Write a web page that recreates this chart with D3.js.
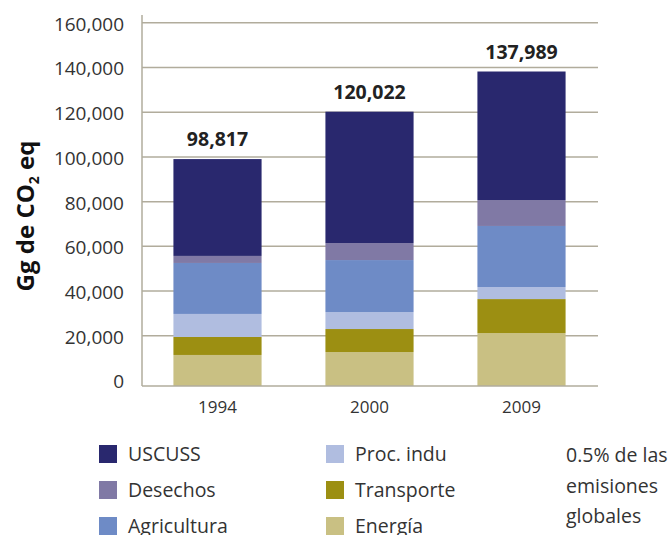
<!DOCTYPE html>
<html>
<head>
<meta charset="utf-8">
<script src="https://cdn.jsdelivr.net/npm/d3@7"></script>
<style>
  body { margin: 0; background: #fff; }
  svg { display: block; font-family: "Open Sans", sans-serif; }
</style>
</head>
<body>
<svg id="chart" width="670" height="535"></svg>
<script>
// ---- Data ----
const years = ["1994", "2000", "2009"];
const totals = [98817, 120022, 137989];
const energia = [11200, 12500, 21000];
const transporte = [8050, 10300, 15200];
const procIndu = [10300, 7600, 5400];
const agricultura = [22800, 23250, 27300];
const desechos = [3150, 7600, 11600];
const uscuss = [43317, 58772, 57489];
const yTicks = [0, 20000, 40000, 60000, 80000, 100000, 120000, 140000, 160000];
const seriesNames = ["Energía", "Transporte", "Proc. indu", "Agricultura", "Desechos", "USCUSS"];
const seriesValues = [energia, transporte, procIndu, agricultura, desechos, uscuss];
const legendCol1 = ["USCUSS", "Desechos", "Agricultura"];
const legendCol2 = ["Proc. indu", "Transporte", "Energía"];
const noteLines = ["0.5% de las", "emisiones", "globales"];

const colors = {
  "USCUSS": "#29286e",
  "Desechos": "#8079a5",
  "Agricultura": "#6e8bc6",
  "Proc. indu": "#b0bde0",
  "Transporte": "#9c8f12",
  "Energía": "#c9c083"
};

// ---- Build table ----
const table = years.map((yr, i) => {
  const row = { year: yr };
  seriesNames.forEach((s, k) => row[s] = seriesValues[k][i]);
  return row;
});
const stacked = d3.stack().keys(seriesNames)(table);

const svg = d3.select("#chart");
const left = 142, right = 598, baseY = 386;

const x = d3.scaleBand().domain(years).range([141.5, 597.5])
  .paddingInner(0.42).paddingOuter(0.21);
const y = d3.scaleLinear().domain([0, 160000]).range([380, 22.3]);

const gridColor = "#b1ac9c";
const textColor = "#333333";

// Gridlines + y tick labels
const yAxis = svg.append("g")
  .attr("transform", `translate(${left},0)`)
  .call(d3.axisLeft(y).tickValues(yTicks).tickFormat(d3.format(","))
    .tickSize(-(right - left)).tickPadding(18));
yAxis.select(".domain").remove();
yAxis.selectAll(".tick line").attr("stroke", gridColor).attr("stroke-width", 1.5)
  .filter(d => d === 0).remove();
yAxis.selectAll(".tick text")
  .attr("fill", textColor).attr("font-size", "19px")
  .attr("font-family", "Open Sans").attr("dy", "0.42em");

// Bars
svg.append("g").selectAll("g").data(stacked).join("g")
  .attr("fill", d => colors[d.key])
  .selectAll("rect").data(d => d).join("rect")
  .attr("x", d => x(d.data.year))
  .attr("width", x.bandwidth())
  .attr("y", d => y(d[1]))
  .attr("height", d => (d[0] === 0 ? baseY : y(d[0])) - y(d[1]));

// Axis lines
svg.append("line").attr("x1", left).attr("x2", left).attr("y1", 15).attr("y2", baseY)
  .attr("stroke", gridColor).attr("stroke-width", 1.5);

const xAxis = svg.append("g")
  .attr("transform", `translate(0,${baseY})`)
  .call(d3.axisBottom(x).tickSize(0).tickPadding(15));
xAxis.select(".domain").attr("stroke", gridColor).attr("stroke-width", 1.5)
  .attr("d", `M${left},0H${right}`);
xAxis.selectAll(".tick text").attr("fill", textColor).attr("font-size", "17px")
  .attr("font-family", "Open Sans");

// Total labels
svg.append("g").selectAll("text").data(years).join("text")
  .attr("x", d => x(d) + x.bandwidth() / 2)
  .attr("y", (d, i) => y(totals[i]) - 13)
  .attr("text-anchor", "middle")
  .attr("font-weight", "bold").attr("font-size", "19.5px").attr("fill", "#222")
  .text((d, i) => d3.format(",")(totals[i]));

// Y title
const yt = svg.append("text")
  .attr("transform", "translate(34,216) rotate(-90)")
  .attr("text-anchor", "middle")
  .attr("font-weight", "bold").attr("font-size", "24px").attr("fill", "#111");
yt.append("tspan").text("Gg de CO");
yt.append("tspan").attr("font-size", "14px").attr("dy", 5).text("2");
yt.append("tspan").attr("dy", -5).text(" eq");

// Legend
const rowY = [454, 490, 526];
function legendCol(names, sx, tx) {
  const g = svg.append("g");
  names.forEach((n, i) => {
    g.append("rect").attr("x", sx).attr("y", rowY[i] - 9).attr("width", 18).attr("height", 18)
      .attr("fill", colors[n]);
    g.append("text").attr("x", tx).attr("y", rowY[i] + 7)
      .attr("font-size", "19.5px").attr("fill", textColor).text(n);
  });
}
legendCol(legendCol1, 99, 128);
legendCol(legendCol2, 326, 355);

const noteY = [461.5, 492.5, 522.5];
svg.append("g").selectAll("text").data(noteLines).join("text")
  .attr("x", 566).attr("y", (d, i) => noteY[i])
  .attr("font-size", "19.5px").attr("fill", textColor).text(d => d);
</script>
</body>
</html>
